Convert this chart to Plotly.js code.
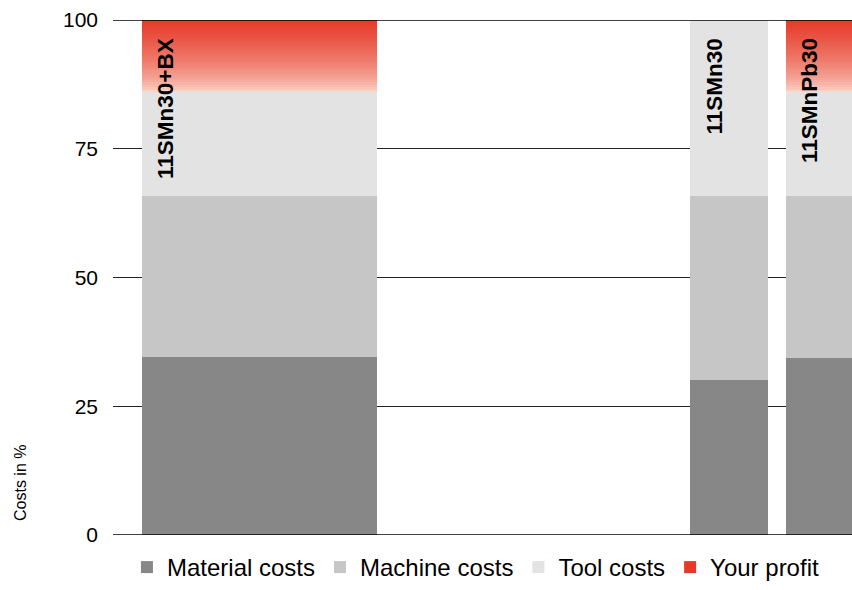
<!DOCTYPE html>
<html>
<head>
<meta charset="utf-8">
<script src="https://cdn.plot.ly/plotly-3.0.1.min.js"></script>
<style>
  html, body { margin: 0; padding: 0; background: #ffffff; }
  #chart { width: 852px; height: 590px; }
</style>
</head>
<body>
<div id="chart"></div>
<script>
// Steel grades and their cost split (percent of part price)
const grades = ['11SMn30+BX', '11SMn30', '11SMnPb30'];
const barCenters = [146.5, 616, 712];   // position along the (hidden) x axis
const barWidths = [235, 78, 78];
const materialCosts = [34.6, 30.1, 34.4];
const machineCosts = [31.2, 35.7, 31.4];
const toolCosts = [20.2, 34.2, 20.2];
const yourProfit = [14.0, 0, 14.0];
const yTicks = [0, 25, 50, 75, 100];

const FONT = '"Liberation Sans", Arial, Helvetica, sans-serif';

function barTrace(name, values, color) {
  return {
    type: 'bar', name: name, x: barCenters, y: values, width: barWidths,
    marker: { color: color, line: { width: 0 } },
    hoverinfo: 'name+y'
  };
}

const data = [
  barTrace('Material costs', materialCosts, '#878787'),
  barTrace('Machine costs', machineCosts, '#c6c6c6'),
  barTrace('Tool costs', toolCosts, '#e3e3e3')
];

// Profit is shaded with a vertical fade: split into thin stacked bands
const bands = 30;
const pale = [252, 226, 214], red = [230, 57, 40];
for (let i = 0; i < bands; i++) {
  const t = Math.pow((i + 0.5) / bands, 0.6);
  const c = pale.map((p, k) => Math.round(p + (red[k] - p) * t));
  data.push({
    type: 'bar', name: 'Your profit', legendgroup: 'profit',
    showlegend: i === bands - 1,
    x: barCenters, y: yourProfit.map(v => v / bands), width: barWidths,
    marker: { color: i === bands - 1 ? 'rgb(' + red.join(',') + ')' : 'rgb(' + c.join(',') + ')', line: { width: 0 } },
    hoverinfo: 'skip'
  });
}

// Grade names written upright inside the top of each bar
const annotations = grades.map((g, i) => ({
  x: barCenters[i] - barWidths[i] / 2 + 24, y: 96.8,
  xref: 'x', yref: 'y', text: g, textangle: -90,
  xanchor: 'center', yanchor: 'top', showarrow: false,
  font: { family: FONT, size: 22.5, weight: 'bold', color: '#000000' }
}));
annotations.push({
  x: -0.1245, y: 0.101, xref: 'paper', yref: 'paper',
  text: 'Costs in %', textangle: -90, showarrow: false,
  xanchor: 'center', yanchor: 'middle',
  font: { family: FONT, size: 16, color: '#000000' }
});

const layout = {
  width: 852, height: 590,
  margin: { l: 113, r: 0, t: 20, b: 55 },
  paper_bgcolor: '#ffffff', plot_bgcolor: '#ffffff',
  barmode: 'stack', bargap: 0,
  font: { family: FONT, size: 20, color: '#000000' },
  xaxis: { range: [0, 739], visible: false, fixedrange: true },
  yaxis: {
    range: [0, 100], tickvals: yTicks, ticktext: yTicks.map(String),
    showgrid: true, gridcolor: '#222222', gridwidth: 1,
    zeroline: false, showline: false, ticks: '', ticklabelstandoff: 14,
    tickfont: { family: FONT, size: 21, color: '#000000' },
    layer: 'below traces', fixedrange: true
  },
  shapes: [0, 100].map(v => ({
    type: 'line', xref: 'paper', yref: 'y', x0: 0, x1: 1, y0: v, y1: v,
    line: { color: '#000000', width: 1.5 }, layer: 'above'
  })),
  showlegend: true,
  legend: {
    orientation: 'h', xref: 'container', yref: 'container',
    x: 0.149, xanchor: 'left', y: 0, yanchor: 'bottom',
    traceorder: 'normal', font: { family: FONT, size: 24, color: '#000000' },
    bgcolor: 'rgba(0,0,0,0)'
  },
  annotations: annotations
};

Plotly.newPlot('chart', data, layout, { displayModeBar: false, staticPlot: true });
</script>
</body>
</html>
